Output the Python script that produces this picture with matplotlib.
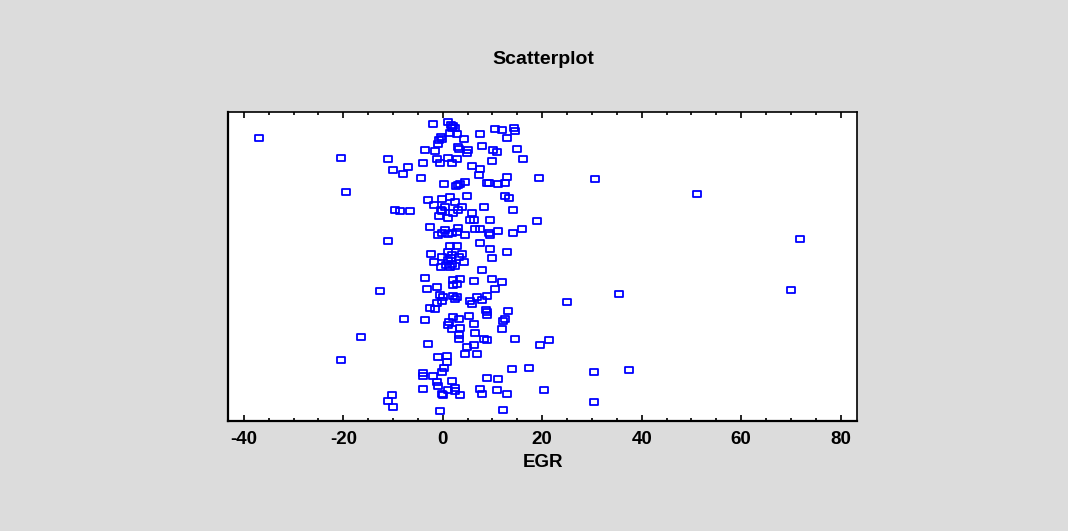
import matplotlib
matplotlib.use("Agg")
import matplotlib.pyplot as plt
from matplotlib.path import Path
from matplotlib.ticker import MultipleLocator
import numpy as np

# EGR values (x) and vertical jitter positions (y, 0-100)
egr = [
    -1.9, 1.1, 1.6, 2.1, 2.5, 1.9, 10.5, 11.9, 14.3, 14.6,
    1.4, 2.8, 7.5, -0.3, -0.2, -0.7, 4.2, 12.9, -0.9, 3.1,
    3.2, 5.1, 4.9, 7.9, -3.5, -1.6, 10.2, 10.9, 14.9, -11.0,
    -1.2, 1.1, 2.8, -3.9, -0.5, 1.8, 9.9, 16.2, -7.0, -10.0,
    -8.0, 5.9, 7.5, 7.2, -4.3, 12.9, 19.3, 0.2, 4.5, 3.4,
    3.0, 2.6, 8.8, 9.3, 11.2, 12.6, -2.9, -0.2, 1.5, 2.5,
    4.8, 12.5, 13.4, -1.8, 0.5, 3.8, 8.2, -9.7, -8.6, -6.6,
    -0.3, -0.1, 3.1, 2.1, 14.2, 5.9, -0.8, 1.1, 5.4, 6.3,
    9.5, 19.0, -2.6, 0.4, 3.1, 2.8, 1.8, 1.1, -0.2, -0.9,
    4.5, 6.4, 7.4, 9.2, 9.5, 11.2, 14.2, 15.9, -11.0, 7.5,
    1.4, 2.8, 9.5, 12.9, -2.3, -0.2, 1.1, 1.9, 1.6, 1.0,
    3.8, 3.3, 4.2, -1.8, 9.9, -0.3, 0.7, 1.8, 2.5, 1.4,
    7.9, -3.5, 2.1, 3.4, 2.9, 2.1, 6.2, 9.9, 11.9, -1.2,
    -3.2, 10.5, -12.6, -0.6, 0.1, 2.1, 2.8, 2.5, -0.2, -1.2,
    6.8, 8.8, 5.4, 5.9, 7.8, -2.6, -1.5, 8.7, 8.9, 13.2,
    -7.7, -3.5, 2.1, 3.2, 1.3, 1.1, 1.8, 3.4, 5.2, 6.2,
    8.9, 12.5, 12.2, 11.9, 3.2, 3.2, 6.5, 8.2, 8.9, 14.6,
    21.3, 19.6, -2.9, 6.2, 4.8, -0.9, 0.8, 0.8, 4.5, 6.8,
    0.2, -0.2, 13.9, 17.3, -3.9, -3.9, -1.9, 1.8, -1.2, -0.9,
    8.8, 11.2, -3.9, 1.1, 2.5, 2.5, -0.2, 0.1, 3.4, 7.5,
    7.8, 10.9, 12.9, 20.3, -10.3, -11.0, -10.0, -0.6, 12.2, -36.9,
    -20.4, -19.4, -16.4, -20.4, 30.7, 51.2, 71.8, 70.1, 35.5, 25.0,
    30.4, 37.5, 30.4,
]
jitter = [
    96.4, 97.0, 96.1, 95.6, 95.0, 95.2, 94.8, 94.4, 95.2, 94.1,
    93.5, 93.1, 93.2, 92.2, 91.6, 91.3, 91.4, 91.9, 89.9, 88.8,
    88.2, 88.1, 87.0, 89.3, 88.0, 87.6, 88.0, 87.4, 88.4, 85.0,
    85.1, 85.5, 84.9, 83.7, 83.7, 83.7, 84.5, 85.0, 82.5, 81.5,
    80.2, 82.8, 81.9, 79.8, 78.9, 79.3, 78.9, 76.9, 77.6, 77.0,
    76.6, 76.4, 77.3, 77.2, 76.9, 77.3, 71.8, 72.1, 72.6, 71.2,
    72.9, 73.1, 72.5, 70.0, 69.5, 69.5, 69.5, 68.6, 68.2, 68.2,
    68.6, 68.0, 68.4, 67.6, 68.6, 67.4, 66.6, 65.9, 65.4, 65.4,
    65.2, 64.9, 63.1, 62.1, 62.7, 61.4, 60.9, 60.6, 60.9, 60.5,
    60.5, 62.4, 62.4, 61.1, 60.4, 61.8, 61.0, 62.3, 58.4, 57.9,
    56.8, 56.8, 55.9, 55.0, 54.2, 53.3, 54.8, 53.9, 53.0, 52.2,
    54.2, 53.2, 51.5, 51.5, 52.9, 50.0, 50.6, 50.9, 50.3, 50.1,
    49.0, 46.4, 45.7, 46.1, 44.5, 44.3, 45.5, 46.0, 45.1, 43.5,
    43.0, 42.9, 42.1, 40.9, 40.1, 40.6, 40.4, 39.5, 38.9, 38.2,
    40.2, 40.5, 38.8, 38.1, 39.2, 36.7, 36.2, 36.1, 35.4, 35.7,
    33.1, 32.7, 33.6, 33.2, 32.2, 31.0, 29.8, 30.2, 34.0, 31.5,
    34.5, 33.2, 32.3, 29.8, 28.0, 26.7, 28.5, 26.7, 26.3, 26.7,
    26.3, 24.6, 25.1, 24.6, 24.1, 20.7, 21.2, 19.1, 21.6, 21.6,
    17.2, 16.0, 16.9, 17.3, 15.7, 14.6, 14.7, 13.1, 12.7, 11.3,
    14.0, 13.5, 10.5, 10.1, 10.6, 9.6, 8.8, 8.4, 8.4, 10.5,
    8.8, 10.1, 8.8, 10.1, 8.4, 6.6, 4.5, 3.2, 3.6, 91.8,
    85.3, 74.3, 27.1, 19.8, 78.5, 73.7, 59.2, 42.5, 41.2, 38.7,
    16.0, 16.5, 6.2,
]
x_ticks = [-40, -20, 0, 20, 40, 60, 80]
title = "Scatterplot"
x_label = "EGR"

plt.rcParams['font.family'] = ['Liberation Sans', 'DejaVu Sans']

bg = '#dcdcdc'
fig = plt.figure(figsize=(10.68, 5.31), dpi=100, facecolor=bg)
ax = fig.add_axes([0.2139, 0.2072, 0.5885, 0.5819])
ax.set_facecolor('white')

rect = Path([(-1.35, -1), (1.35, -1), (1.35, 1), (-1.35, 1), (-1.35, -1)],
            [Path.MOVETO, Path.LINETO, Path.LINETO, Path.LINETO, Path.CLOSEPOLY])
ax.plot(egr, jitter, linestyle='none', marker=rect, markersize=5.6,
        markerfacecolor='none', markeredgecolor='#0000ff', markeredgewidth=1.3)

ax.set_xlim(-43.1, 83.3)
ax.set_ylim(0, 100.3)
ax.set_xticks(x_ticks)
ax.set_xticklabels([str(t) for t in x_ticks])
ax.xaxis.set_minor_locator(MultipleLocator(5))
ax.set_yticks([])
ax.tick_params(axis='x', which='both', direction='in', top=True, bottom=True,
               color='black', width=1.2)
ax.tick_params(axis='x', which='major', length=4.5, pad=7.5, labelsize=13.5)
ax.tick_params(axis='x', which='minor', length=2.2)
for lab in ax.get_xticklabels():
    lab.set_fontweight('bold')

for side in ['left', 'bottom']:
    ax.spines[side].set_linewidth(1.6)
for side in ['top', 'right']:
    ax.spines[side].set_linewidth(1.2)
for s in ax.spines.values():
    s.set_color('black')

ax.set_xlabel(x_label, fontsize=13.5, fontweight='bold', labelpad=4)
fig.text(0.5084, 0.888, title, ha='center', va='center', fontsize=14,
         fontweight='bold')

fig.savefig('out.png', dpi=100, facecolor=bg)
